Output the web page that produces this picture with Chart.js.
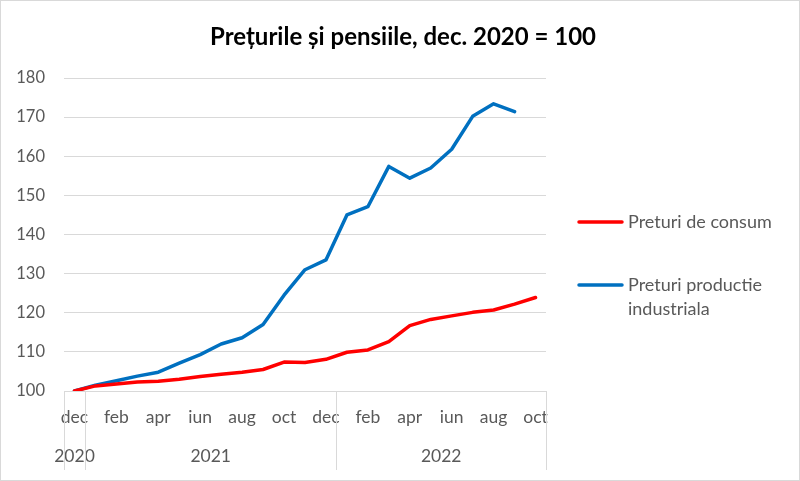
<!DOCTYPE html>
<html>
<head>
<meta charset="utf-8">
<script src="https://cdn.jsdelivr.net/npm/chart.js@4"></script>
<style>
  html, body { margin: 0; padding: 0; background: #fff; }
  #wrap { width: 800px; height: 481px; position: relative; }
</style>
</head>
<body>
<div id="wrap"><canvas id="chart"></canvas></div>
<script>
// Chart data
const months = ['dec', 'ian', 'feb', 'mar', 'apr', 'mai', 'iun', 'iul', 'aug', 'sep', 'oct', 'noi',
                'dec', 'ian', 'feb', 'mar', 'apr', 'mai', 'iun', 'iul', 'aug', 'sep', 'oct'];
const years = ['2020', '2021', '2022'];
const yearSpans = [1, 12, 10];
const preturiConsum = [100, 101.3, 101.8, 102.3, 102.5, 103.0, 103.7, 104.3, 104.8, 105.5, 107.4, 107.3,
                       108.1, 109.9, 110.5, 112.6, 116.7, 118.3, 119.2, 120.1, 120.7, 122.2, 123.9];
const preturiIndustrie = [100, 101.5, 102.6, 103.8, 104.8, 107.1, 109.3, 112.0, 113.6, 117.0, 124.5, 131.0,
                          133.5, 145.0, 147.1, 157.4, 154.4, 157.0, 161.8, 170.2, 173.4, 171.4, null];
const titleText = 'Prețurile și pensiile, dec. 2020 = 100';

const FONT = 'Lato, "Open Sans", sans-serif';
const TEXT_GREY = '#595959';
const LINE_GREY = '#d9d9d9';

// background, border, title, year row, legend
const decorPlugin = {
  id: 'decor',
  beforeDraw(chart) {
    const ctx = chart.ctx;
    ctx.save();
    ctx.fillStyle = '#fff';
    ctx.fillRect(0, 0, chart.width, chart.height);
    ctx.strokeStyle = LINE_GREY;
    ctx.lineWidth = 1;
    ctx.strokeRect(0.5, 0.5, chart.width - 1, chart.height - 1);
    ctx.restore();
  },
  afterDraw(chart) {
    const ctx = chart.ctx;
    const x = chart.scales.x;
    const area = chart.chartArea;
    const step = x.getPixelForValue(1) - x.getPixelForValue(0);
    ctx.save();

    // title
    ctx.fillStyle = '#000';
    ctx.font = 'bold 24px ' + FONT;
    ctx.textAlign = 'center';
    ctx.textBaseline = 'middle';
    ctx.fillText(titleText, 403, 37);

    // year groups with separators
    ctx.strokeStyle = LINE_GREY;
    ctx.lineWidth = 1;
    ctx.fillStyle = TEXT_GREY;
    ctx.font = '17.5px ' + FONT;
    let start = 0;
    const bounds = [];
    yearSpans.forEach((span, i) => {
      const left = x.getPixelForValue(start) - step / 2;
      const right = x.getPixelForValue(start + span - 1) + step / 2;
      bounds.push(left);
      if (i === yearSpans.length - 1) bounds.push(right);
      ctx.fillText(years[i], (left + right) / 2, 456);
      start += span;
    });
    bounds.forEach(b => {
      const px = Math.round(b) + 0.5;
      ctx.beginPath();
      ctx.moveTo(px, area.bottom);
      ctx.lineTo(px, 470);
      ctx.stroke();
    });

    // legend
    const items = [
      { color: '#ff0000', lines: ['Preturi de consum'], y: 222 },
      { color: '#0070c0', lines: ['Preturi productie', 'industriala'], y: 285 }
    ];
    ctx.textAlign = 'left';
    ctx.font = '18px ' + FONT;
    items.forEach(it => {
      ctx.strokeStyle = it.color;
      ctx.lineWidth = 3.5;
      ctx.lineCap = 'round';
      ctx.beginPath();
      ctx.moveTo(579, it.y);
      ctx.lineTo(622, it.y);
      ctx.stroke();
      it.lines.forEach((t, j) => {
        ctx.fillText(t, 628, it.y + j * 24);
      });
    });
    ctx.restore();
  }
};

new Chart(document.getElementById('chart'), {
  type: 'line',
  data: {
    labels: months,
    datasets: [
      {
        label: 'Preturi de consum',
        data: preturiConsum,
        borderColor: '#ff0000',
        backgroundColor: '#ff0000',
        borderWidth: 3.5,
        pointRadius: 0,
        tension: 0,
        borderJoinStyle: 'round',
        borderCapStyle: 'round'
      },
      {
        label: 'Preturi productie industriala',
        data: preturiIndustrie,
        borderColor: '#0070c0',
        backgroundColor: '#0070c0',
        borderWidth: 3.5,
        pointRadius: 0,
        tension: 0,
        borderJoinStyle: 'round',
        borderCapStyle: 'round'
      }
    ]
  },
  options: {
    responsive: true,
    maintainAspectRatio: false,
    animation: false,
    layout: { padding: { top: 78, left: 0, right: 254, bottom: 11 } },
    plugins: {
      legend: { display: false },
      title: { display: false },
      tooltip: { enabled: false }
    },
    scales: {
      x: {
        offset: true,
        grid: { display: false, drawTicks: false },
        border: { display: false },
        ticks: {
          autoSkip: false,
          maxRotation: 0,
          padding: 16,
          color: TEXT_GREY,
          font: { family: FONT, size: 17.5 },
          callback: (v, i) => (i % 2 === 0 ? months[i] : '')
        },
        afterFit: s => { s.height = 79; }
      },
      y: {
        min: 100,
        max: 180,
        grid: { color: LINE_GREY, lineWidth: 1, drawTicks: false },
        border: { display: false },
        ticks: {
          stepSize: 10,
          padding: 19,
          color: TEXT_GREY,
          font: { family: FONT, size: 16.5 }
        },
        afterFit: s => { s.width = 64; }
      }
    }
  },
  plugins: [decorPlugin]
});
</script>
</body>
</html>
